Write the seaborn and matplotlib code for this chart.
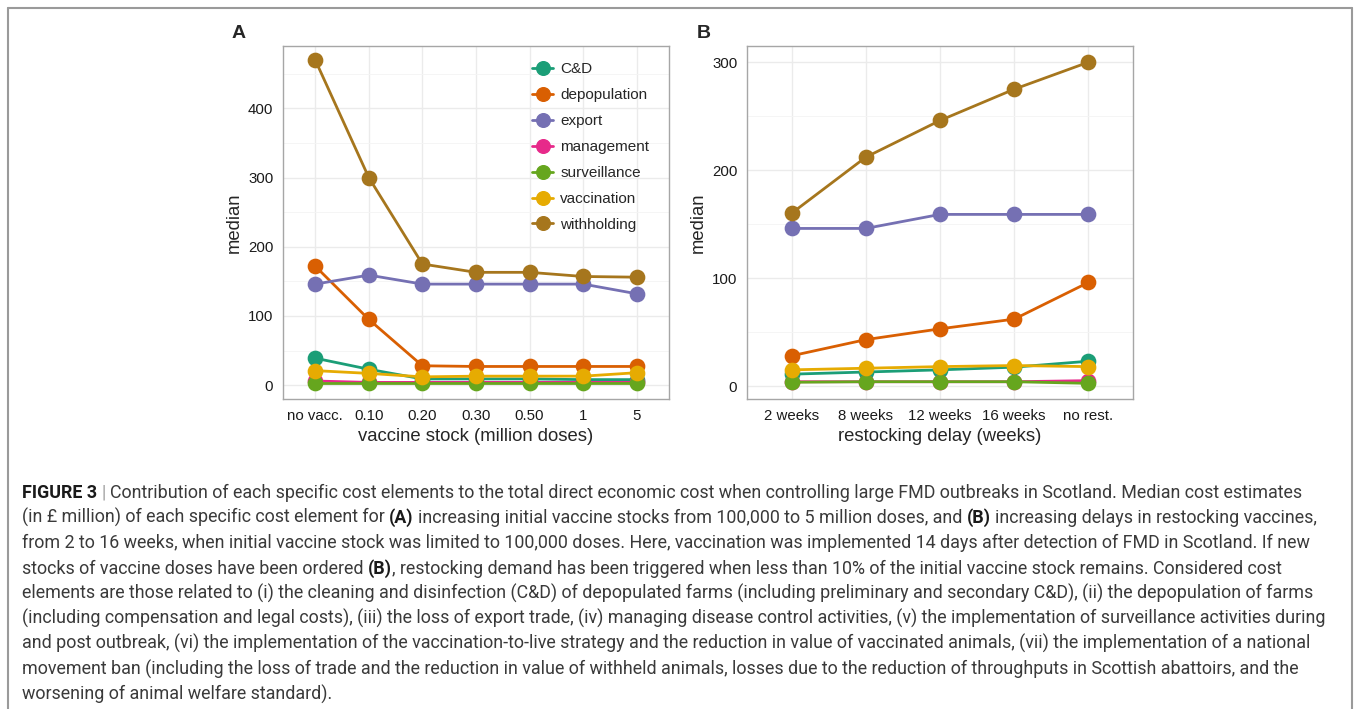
import numpy as np
import pandas as pd
import matplotlib
matplotlib.use("Agg")
import matplotlib.pyplot as plt
import seaborn as sns
from matplotlib.lines import Line2D
from matplotlib.ticker import MultipleLocator

# cost elements and ggplot-like Dark2 colours
elements = ["C&D", "depopulation", "export", "management", "surveillance", "vaccination", "withholding"]
colors = ["#1B9E77", "#D95F02", "#7570B3", "#E7298A", "#66A61E", "#E6AB02", "#A6761D"]

# panel A: vaccine stock (million doses)
stock_labels = ["no vacc.", "0.10", "0.20", "0.30", "0.50", "1", "5"]
a_cd = [39, 23, 9, 9, 9, 8, 8]
a_depop = [172, 95, 28, 27, 27, 27, 27]
a_export = [146, 159, 146, 146, 146, 146, 132]
a_manage = [6, 4, 4, 4, 4, 4, 4]
a_surv = [3, 3, 3, 3, 3, 3, 3]
a_vacc = [21, 17, 12, 13, 13, 13, 18]
a_withh = [470, 300, 175, 163, 163, 157, 156]

# panel B: restocking delay
delay_labels = ["2 weeks", "8 weeks", "12 weeks", "16 weeks", "no rest."]
b_cd = [11, 13, 15, 17.5, 23]
b_depop = [28, 43, 53, 62, 96]
b_export = [146, 146, 159, 159, 159]
b_manage = [4, 4, 4, 4, 5]
b_surv = [3.5, 4, 4, 4, 2.5]
b_vacc = [15, 16.5, 18, 19, 18]
b_withh = [160, 212, 246, 275, 300]


def long_table(labels, series):
    rows = []
    for name, vals in zip(elements, series):
        for lab, v in zip(labels, vals):
            rows.append({"x": lab, "element": name, "median": v})
    return pd.DataFrame(rows)


df_a = long_table(stock_labels, [a_cd, a_depop, a_export, a_manage, a_surv, a_vacc, a_withh])
df_b = long_table(delay_labels, [b_cd, b_depop, b_export, b_manage, b_surv, b_vacc, b_withh])

sns.set_style("white")
plt.rcParams["font.family"] = ["Liberation Sans", "DejaVu Sans"]

W, H = 1359, 709
fig = plt.figure(figsize=(W / 100, H / 100), dpi=100)


def px_axes(l, t, r, b):
    return fig.add_axes([l / W, 1 - b / H, (r - l) / W, (b - t) / H])


ax_a = px_axes(283, 46, 669, 399)
ax_b = px_axes(747, 46, 1133, 399)


def style_panel(ax, df, order, ylim, ymajor, xlabel):
    sns.pointplot(data=df, x="x", y="median", hue="element", order=order,
                  hue_order=elements, palette=colors, errorbar=None,
                  markers="o", markersize=9.8, linewidth=2.0, ax=ax, legend=False)
    ax.set_xlim(-0.6, len(order) - 0.4)
    ax.set_ylim(*ylim)
    ax.yaxis.set_major_locator(MultipleLocator(ymajor))
    ax.yaxis.set_minor_locator(MultipleLocator(ymajor / 2))
    ax.set_axisbelow(True)
    ax.grid(True, which="major", color="#EBEBEB", linewidth=1.0)
    ax.grid(True, which="minor", axis="y", color="#F4F4F4", linewidth=0.6)
    for sp in ax.spines.values():
        sp.set_color("#A6A6A6")
        sp.set_linewidth(1.0)
    ax.tick_params(axis="both", which="major", length=4, width=0.8, color="#333333",
                   labelsize=10.8, labelcolor="#1a1a1a", pad=3)
    ax.tick_params(axis="y", which="minor", length=0)
    ax.set_xlabel(xlabel, fontsize=13.3, labelpad=4)
    ax.set_ylabel("median", fontsize=13.3, labelpad=4)


style_panel(ax_a, df_a, stock_labels, (-20, 490), 100, "vaccine stock (million doses)")
style_panel(ax_b, df_b, delay_labels, (-12, 315), 100, "restocking delay (weeks)")

handles = [Line2D([0], [0], color=c, marker="o", markersize=9.8, linewidth=2.0) for c in colors]
ax_a.legend(handles, elements, loc="upper left", bbox_to_anchor=(0.645, 0.955),
            frameon=False, fontsize=11, handlelength=1.4, handletextpad=0.45,
            labelspacing=0.785, borderpad=0, borderaxespad=0)

fig.text(232 / W, 1 - 33 / H, "A", fontsize=14, fontweight="bold", va="center", ha="left")
fig.text(697 / W, 1 - 33 / H, "B", fontsize=14, fontweight="bold", va="center", ha="left")

# figure frame (open at the bottom)
frame = dict(color="#9A9A9A", linewidth=1.5, transform=fig.transFigure)
fig.add_artist(Line2D([8 / W, 8 / W], [0, 1 - 8 / H], **frame))
fig.add_artist(Line2D([8 / W, 1352 / W], [1 - 8 / H, 1 - 8 / H], **frame))
fig.add_artist(Line2D([1352 / W, 1352 / W], [0, 1 - 8 / H], **frame))

# caption
caption = [
    [("FIGURE 3", "b"), (" | ", "bar"), ("Contribution of each specific cost elements to the total direct economic cost when controlling large FMD outbreaks in Scotland. Median cost estimates", "n")],
    [("(in £ million) of each specific cost element for ", "n"), ("(A)", "b"), (" increasing initial vaccine stocks from 100,000 to 5 million doses, and ", "n"), ("(B)", "b"), (" increasing delays in restocking vaccines,", "n")],
    [("from 2 to 16 weeks, when initial vaccine stock was limited to 100,000 doses. Here, vaccination was implemented 14 days after detection of FMD in Scotland. If new", "n")],
    [("stocks of vaccine doses have been ordered ", "n"), ("(B)", "b"), (", restocking demand has been triggered when less than 10% of the initial vaccine stock remains. Considered cost", "n")],
    [("elements are those related to (i) the cleaning and disinfection (C&D) of depopulated farms (including preliminary and secondary C&D), (ii) the depopulation of farms", "n")],
    [("(including compensation and legal costs), (iii) the loss of export trade, (iv) managing disease control activities, (v) the implementation of surveillance activities during", "n")],
    [("and post outbreak, (vi) the implementation of the vaccination-to-live strategy and the reduction in value of vaccinated animals, (vii) the implementation of a national", "n")],
    [("movement ban (including the loss of trade and the reduction in value of withheld animals, losses due to the reduction of throughputs in Scottish abattoirs, and the", "n")],
    [("worsening of animal welfare standard).", "n")],
]

CAP_FONT = ["Roboto", "DejaVu Sans"]
renderer = fig.canvas.get_renderer()


def make_text(x, y, s, size, kind):
    kw = dict(fontsize=size, family=CAP_FONT, va="baseline", ha="left", color="#3a3a3a")
    if kind == "b":
        kw["fontweight"] = "bold"
        kw["color"] = "#1a1a1a"
    elif kind == "bar":
        kw["color"] = "#9A9A9A"
    return fig.text(x / W, 1 - y / H, s, **kw)


def width_of(s, size, kind):
    t = make_text(0, 0, s, size, kind)
    w = t.get_window_extent(renderer).width
    t.remove()
    return w


def draw_line(parts, x0, y, size, draw=True):
    sp = width_of("a a", size, "n") - width_of("aa", size, "n")
    x = x0
    for s, kind in parts:
        lead = len(s) - len(s.lstrip(" "))
        trail = len(s) - len(s.rstrip(" "))
        core = s.strip(" ")
        x += lead * sp
        if draw:
            make_text(x, y, core, size, kind)
        x += width_of(core, size, kind)
        x += trail * sp
    return x - x0


# fit the caption size so the widest line ends near the right frame
widest = max(draw_line(p, 22, 0, 10, draw=False) for p in caption)
cap_size = 10 * 1312 / widest
for i, parts in enumerate(caption):
    draw_line(parts, 22, 498 + i * 25.2, cap_size)

fig.savefig("out.png", dpi=100)
